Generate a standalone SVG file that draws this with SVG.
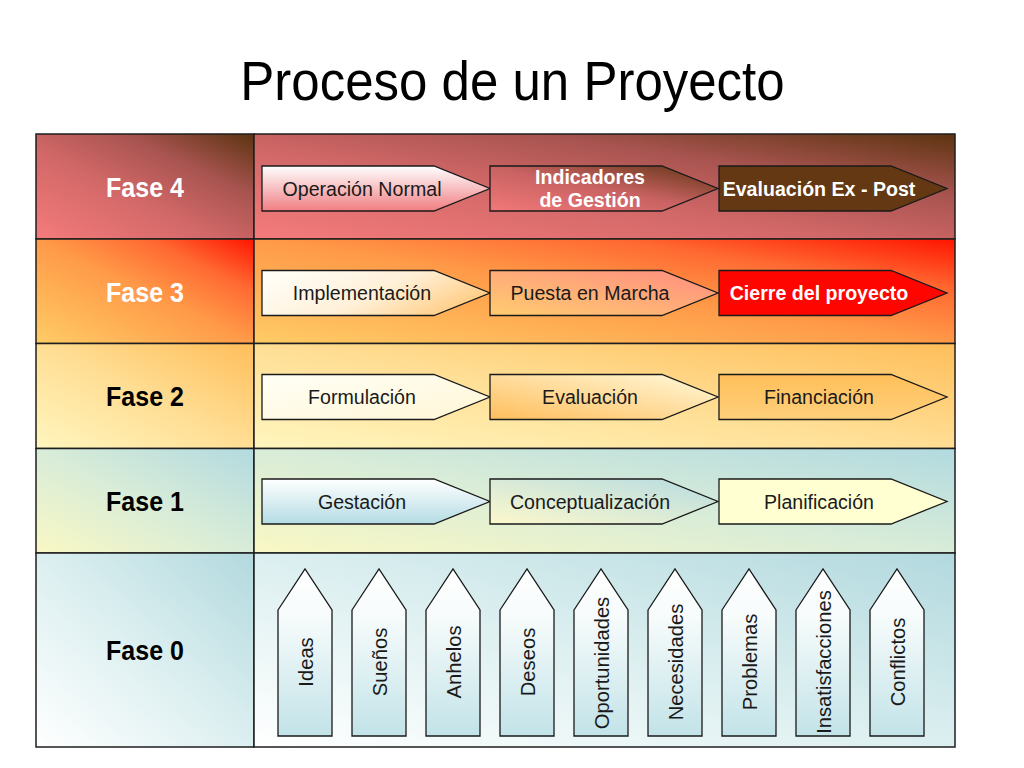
<svg xmlns="http://www.w3.org/2000/svg" width="1024" height="768" viewBox="0 0 1024 768">
<defs>
<style>
.cell{stroke:#1e1e1e;stroke-width:1.5}
.arr{stroke:#1a1a1a;stroke-width:1.3;stroke-linejoin:miter}
.title{font-family:"Liberation Sans",Arial,sans-serif;font-size:51px;fill:#000;text-anchor:middle}
.fase{font-family:"Liberation Sans",Arial,sans-serif;font-size:25px;font-weight:bold;text-anchor:middle}
.lbl{font-family:"Liberation Sans",Arial,sans-serif;font-size:19.6px;fill:#1a1a1a;text-anchor:middle}
.lblw{font-family:"Liberation Sans",Arial,sans-serif;font-size:19.6px;font-weight:bold;fill:#fff;text-anchor:middle}
.vl{font-family:"Liberation Sans",Arial,sans-serif;font-size:20.2px;fill:#1a1a1a;text-anchor:middle}
</style>
<linearGradient id="g4" x1="0" y1="1" x2="1" y2="0">
<stop offset="0" stop-color="#F57B7B"/><stop offset="0.42" stop-color="#D26868"/><stop offset="0.7" stop-color="#A85450"/><stop offset="1" stop-color="#5C3410"/>
</linearGradient>
<linearGradient id="g3" x1="0" y1="1" x2="1" y2="0">
<stop offset="0" stop-color="#FFCC66"/><stop offset="0.5" stop-color="#FF9A48"/><stop offset="0.75" stop-color="#FF6A32"/><stop offset="1" stop-color="#FF1500"/>
</linearGradient>
<linearGradient id="g2" x1="0" y1="1" x2="1" y2="0">
<stop offset="0" stop-color="#FFF6BE"/><stop offset="0.5" stop-color="#FFDE94"/><stop offset="1" stop-color="#FFBE5A"/>
</linearGradient>
<linearGradient id="g1" x1="0" y1="1" x2="1" y2="0">
<stop offset="0" stop-color="#FAF8C4"/><stop offset="0.5" stop-color="#D8ECD8"/><stop offset="1" stop-color="#B2DAE0"/>
</linearGradient>
<linearGradient id="g0" x1="0" y1="1" x2="1" y2="0">
<stop offset="0" stop-color="#FFFFFF"/><stop offset="0.5" stop-color="#DCEFF0"/><stop offset="1" stop-color="#B2D9DE"/>
</linearGradient>
<linearGradient id="aOper" x1="0" y1="0" x2="0" y2="1">
<stop offset="0" stop-color="#FFFFFF"/><stop offset="1" stop-color="#F07E82"/>
</linearGradient>
<linearGradient id="aInd" x1="0" y1="1" x2="1" y2="0">
<stop offset="0" stop-color="#F27878"/><stop offset="0.5" stop-color="#C86262"/><stop offset="1" stop-color="#5E3412"/>
</linearGradient>
<linearGradient id="aImpl" x1="0" y1="0.3" x2="1" y2="0.7">
<stop offset="0" stop-color="#FFFDF5"/><stop offset="0.5" stop-color="#FFF0D8"/><stop offset="1" stop-color="#FFC878"/>
</linearGradient>
<linearGradient id="aPuesta" x1="0" y1="1" x2="1" y2="0">
<stop offset="0" stop-color="#FFCC70"/><stop offset="1" stop-color="#FF8C80"/>
</linearGradient>
<linearGradient id="aForm" x1="0" y1="0" x2="1" y2="1">
<stop offset="0" stop-color="#FFFFF6"/><stop offset="1" stop-color="#FFF6D6"/>
</linearGradient>
<linearGradient id="aEval" x1="0" y1="1" x2="1" y2="0">
<stop offset="0" stop-color="#FFBE5C"/><stop offset="1" stop-color="#FFFADC"/>
</linearGradient>
<linearGradient id="aFin" x1="0" y1="0" x2="0" y2="1">
<stop offset="0" stop-color="#FFBF5A"/><stop offset="1" stop-color="#FFD07A"/>
</linearGradient>
<linearGradient id="aGest" x1="0" y1="0" x2="0" y2="1">
<stop offset="0" stop-color="#FFFFFF"/><stop offset="1" stop-color="#B4DCE4"/>
</linearGradient>
<linearGradient id="aConc" x1="0" y1="1" x2="1" y2="0">
<stop offset="0" stop-color="#FCF8CC"/><stop offset="1" stop-color="#B6DCE2"/>
</linearGradient>
<linearGradient id="aUp" x1="0" y1="0" x2="0" y2="1">
<stop offset="0" stop-color="#FFFFFF"/><stop offset="0.3" stop-color="#F6FBFB"/><stop offset="1" stop-color="#C2E3E8"/>
</linearGradient>
</defs>
<rect width="1024" height="768" fill="#fff"/>
<text class="title" transform="translate(512.5,100) scale(1,1.1)">Proceso de un Proyecto</text>

<g id="table">
<g id="fase4">
<rect class="cell" x="36" y="134" width="218" height="105" fill="url(#g4)"/>
<rect class="cell" x="254" y="134" width="701" height="105" fill="url(#g4)"/>
<text class="fase" transform="translate(145,196.5) scale(1,1.14)" fill="#fff">Fase 4</text>
</g>
<g id="fase3">
<rect class="cell" x="36" y="239" width="218" height="104.5" fill="url(#g3)"/>
<rect class="cell" x="254" y="239" width="701" height="104.5" fill="url(#g3)"/>
<text class="fase" transform="translate(145,301.5) scale(1,1.14)" fill="#fff">Fase 3</text>
</g>
<g id="fase2">
<rect class="cell" x="36" y="343.5" width="218" height="105" fill="url(#g2)"/>
<rect class="cell" x="254" y="343.5" width="701" height="105" fill="url(#g2)"/>
<text class="fase" transform="translate(145,406) scale(1,1.14)" fill="#000">Fase 2</text>
</g>
<g id="fase1">
<rect class="cell" x="36" y="448.5" width="218" height="104.5" fill="url(#g1)"/>
<rect class="cell" x="254" y="448.5" width="701" height="104.5" fill="url(#g1)"/>
<text class="fase" transform="translate(145,510.5) scale(1,1.14)" fill="#000">Fase 1</text>
</g>
<g id="fase0">
<rect class="cell" x="36" y="553" width="218" height="194" fill="url(#g0)"/>
<rect class="cell" x="254" y="553" width="701" height="194" fill="url(#g0)"/>
<text class="fase" transform="translate(145,660) scale(1,1.14)" fill="#000">Fase 0</text>
</g>
</g>

<g id="connectors"></g>

<g id="operacion-normal">
<polygon class="arr" points="262,166 434,166 490,188.5 434,211 262,211" fill="url(#aOper)"/>
<text class="lbl" transform="translate(362,195.5) scale(1,1.06)">Operación Normal</text>
</g>
<g id="indicadores">
<polygon class="arr" points="490,166 662,166 718,188.5 662,211 490,211" fill="url(#aInd)"/>
<text class="lblw" transform="translate(590,184) scale(1,1.06)">Indicadores</text>
<text class="lblw" transform="translate(590,207) scale(1,1.06)">de Gestión</text>
</g>
<g id="evaluacion-ex-post">
<polygon class="arr" points="719,166 891,166 947,188.5 891,211 719,211" fill="#633812"/>
<text class="lblw" transform="translate(819,195.5) scale(1,1.06)">Evaluación Ex - Post</text>
</g>

<g id="implementacion">
<polygon class="arr" points="262,270.5 434,270.5 490,293 434,315.5 262,315.5" fill="url(#aImpl)"/>
<text class="lbl" transform="translate(362,300) scale(1,1.06)">Implementación</text>
</g>
<g id="puesta-en-marcha">
<polygon class="arr" points="490,270.5 662,270.5 718,293 662,315.5 490,315.5" fill="url(#aPuesta)"/>
<text class="lbl" transform="translate(590,300) scale(1,1.06)">Puesta en Marcha</text>
</g>
<g id="cierre">
<polygon class="arr" points="719,270.5 891,270.5 947,293 891,315.5 719,315.5" fill="#FF0500"/>
<text class="lblw" transform="translate(819,300) scale(1,1.06)">Cierre del proyecto</text>
</g>

<g id="formulacion">
<polygon class="arr" points="262,374.5 434,374.5 490,397 434,419.5 262,419.5" fill="url(#aForm)"/>
<text class="lbl" transform="translate(362,404) scale(1,1.06)">Formulación</text>
</g>
<g id="evaluacion">
<polygon class="arr" points="490,374.5 662,374.5 718,397 662,419.5 490,419.5" fill="url(#aEval)"/>
<text class="lbl" transform="translate(590,404) scale(1,1.06)">Evaluación</text>
</g>
<g id="financiacion">
<polygon class="arr" points="719,374.5 891,374.5 947,397 891,419.5 719,419.5" fill="url(#aFin)"/>
<text class="lbl" transform="translate(819,404) scale(1,1.06)">Financiación</text>
</g>

<g id="gestacion">
<polygon class="arr" points="262,479 434,479 490,501.5 434,524 262,524" fill="url(#aGest)"/>
<text class="lbl" transform="translate(362,508.5) scale(1,1.06)">Gestación</text>
</g>
<g id="conceptualizacion">
<polygon class="arr" points="490,479 662,479 718,501.5 662,524 490,524" fill="url(#aConc)"/>
<text class="lbl" transform="translate(590,508.5) scale(1,1.06)">Conceptualización</text>
</g>
<g id="planificacion">
<polygon class="arr" points="719,479 891,479 947,501.5 891,524 719,524" fill="#FFFFD2"/>
<text class="lbl" transform="translate(819,508.5) scale(1,1.06)">Planificación</text>
</g>

<g id="ideas">
<polygon class="arr" points="278,610 305,569 332,610 332,736 278,736" fill="url(#aUp)"/>
<text class="vl" transform="translate(312.5,662) rotate(-90)">Ideas</text>
</g>
<g id="suenos">
<polygon class="arr" points="352,610 379,569 406,610 406,736 352,736" fill="url(#aUp)"/>
<text class="vl" transform="translate(386.5,662) rotate(-90)">Sueños</text>
</g>
<g id="anhelos">
<polygon class="arr" points="426,610 453,569 480,610 480,736 426,736" fill="url(#aUp)"/>
<text class="vl" transform="translate(460.5,662) rotate(-90)">Anhelos</text>
</g>
<g id="deseos">
<polygon class="arr" points="500,610 527,569 554,610 554,736 500,736" fill="url(#aUp)"/>
<text class="vl" transform="translate(534.5,662) rotate(-90)">Deseos</text>
</g>
<g id="oportunidades">
<polygon class="arr" points="574,610 601,569 628,610 628,736 574,736" fill="url(#aUp)"/>
<text class="vl" transform="translate(608.5,663) rotate(-90)">Oportunidades</text>
</g>
<g id="necesidades">
<polygon class="arr" points="648,610 675,569 702,610 702,736 648,736" fill="url(#aUp)"/>
<text class="vl" transform="translate(682.5,662) rotate(-90)">Necesidades</text>
</g>
<g id="problemas">
<polygon class="arr" points="722,610 749,569 776,610 776,736 722,736" fill="url(#aUp)"/>
<text class="vl" transform="translate(756.5,662) rotate(-90)">Problemas</text>
</g>
<g id="insatisfacciones">
<polygon class="arr" points="796,610 823,569 850,610 850,736 796,736" fill="url(#aUp)"/>
<text class="vl" transform="translate(830.5,662) rotate(-90)">Insatisfacciones</text>
</g>
<g id="conflictos">
<polygon class="arr" points="870,610 897,569 924,610 924,736 870,736" fill="url(#aUp)"/>
<text class="vl" transform="translate(904.5,662) rotate(-90)">Conflictos</text>
</g>
</svg>
